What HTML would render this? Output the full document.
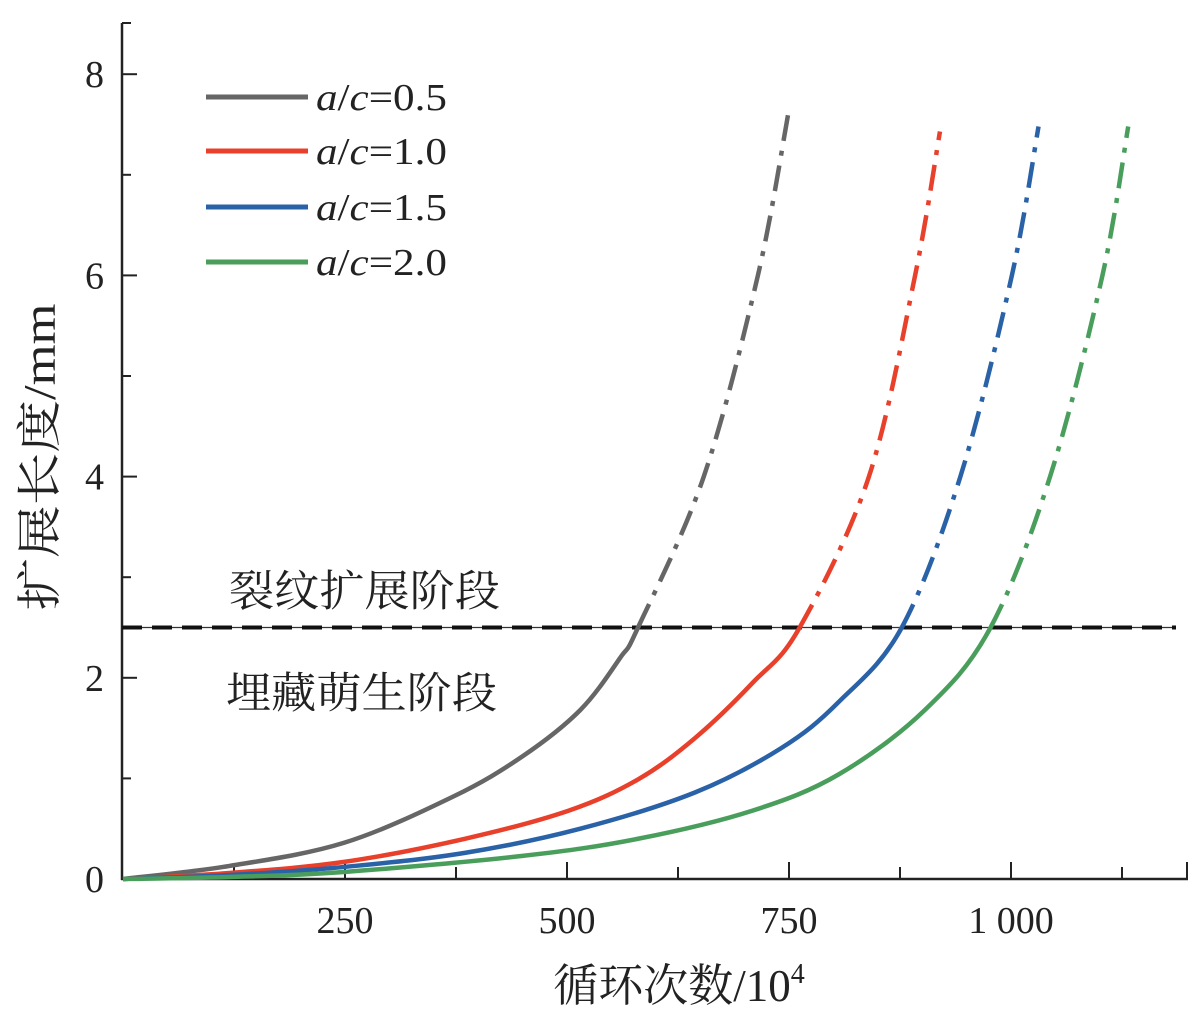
<!DOCTYPE html>
<html><head><meta charset="utf-8"><style>
body{margin:0;background:#fff;}
svg{display:block;font-family:"Liberation Serif","Noto Serif CJK SC",serif;}
</style></head><body>
<svg id="chart" width="1201" height="1018" viewBox="0 0 1201 1018" xmlns="http://www.w3.org/2000/svg"></svg>
<script>
const xTicks=[250,500,750,1000];
const xTickLabels=["250","500","750","1 000"];
const yTicks=[0,2,4,6,8];
const seriesNames=["a/c=0.5","a/c=1.0","a/c=1.5","a/c=2.0"];
const seriesColors=["#666666","#e8402a","#2a62a8","#4a9e5c"];
const threshold=2.5;
// solid (embedded initiation) parts
const grayN=[0,120,249,372,450,515,560,580];
const grayA=[0,0.13,0.36,0.82,1.22,1.68,2.2,2.5];
const redN=[0,120,249,385,502,580,644,709,762];
const redA=[0,0.06,0.17,0.40,0.68,0.99,1.40,1.95,2.5];
const blueN=[0,120,249,385,515,644,741,806,877];
const blueA=[0,0.04,0.12,0.26,0.50,0.86,1.30,1.76,2.5];
const greenN=[0,120,249,450,580,709,806,903,977];
const greenA=[0,0.02,0.07,0.23,0.40,0.68,1.04,1.68,2.5];
// dash-dot (propagation) parts
const grayN2=[580,654,715,749];
const grayA2=[2.5,4,6,7.6];
const redN2=[762,840,892,920];
const redA2=[2.5,4,6,7.43];
const blueN2=[877,943,1001,1031];
const blueA2=[2.5,4,6,7.48];
const greenN2=[977,1044,1103,1132];
const greenA2=[2.5,4,6,7.48];

const svg=document.getElementById('chart');
const NS='http://www.w3.org/2000/svg';
const X0=123,XS=222/250,Y0=879,YS=100.6;
const xs=v=>X0+v*XS, ys=v=>Y0-v*YS;
function mk(t,attrs,txt){const e=document.createElementNS(NS,t);for(const k in attrs)e.setAttribute(k,attrs[k]);if(txt!==undefined)e.textContent=txt;svg.appendChild(e);return e;}
// Catmull-Rom with optional neighbour points for continuity
function smooth(N,A,prev,next){const p=N.map((n,i)=>[xs(n),ys(A[i])]);let d='M'+p[0][0]+','+p[0][1];
for(let i=0;i<p.length-1;i++){const p0=p[i-1]||prev||p[i],p1=p[i],p2=p[i+1],p3=p[i+2]||next||p2;
d+=' C'+(p1[0]+(p2[0]-p0[0])/6)+','+(p1[1]+(p2[1]-p0[1])/6)+' '+(p2[0]-(p3[0]-p1[0])/6)+','+(p2[1]-(p3[1]-p1[1])/6)+' '+p2[0]+','+p2[1];}return d;}

let e=mk('line',{x1:122,y1:23,x2:122,y2:880,stroke:'#222','stroke-width':2.5});

e=mk('line',{x1:121,y1:879,x2:1188,y2:879,stroke:'#222','stroke-width':2.5});

for(let v=125;v<=1125;v+=125){const major=v%250===0;
 e=mk('line',{x1:xs(v),y1:879,x2:xs(v),y2:major?862:867,stroke:'#222','stroke-width':2});
 }
e=mk('line',{x1:1187,y1:879,x2:1187,y2:862,stroke:'#222','stroke-width':2});

for(let v=1;v<=8;v++){const major=v%2===0;
 e=mk('line',{x1:122,y1:ys(v),x2:major?137:131,y2:ys(v),stroke:'#222','stroke-width':2});
 }
e=mk('line',{x1:122,y1:23,x2:131,y2:23,stroke:'#222','stroke-width':2});

xTicks.forEach((v,i)=>{e=mk('text',{x:xs(v),y:933,'font-size':38,'text-anchor':'middle',fill:'#222'},xTickLabels[i]);
 });
yTicks.forEach(v=>{e=mk('text',{x:104,y:ys(v)+13,'font-size':38,'text-anchor':'end',fill:'#222'},String(v));
 });

e=mk('line',{x1:122,y1:ys(threshold),x2:1176,y2:ys(threshold),stroke:'#333','stroke-width':1.2});

e=mk('line',{x1:122,y1:ys(threshold),x2:1176,y2:ys(threshold),stroke:'#111','stroke-width':4,'stroke-dasharray':'20 10'});


const solids=[[grayN,grayA],[redN,redA],[blueN,blueA],[greenN,greenA]];
const dashes=[[grayN2,grayA2],[redN2,redA2],[blueN2,blueA2],[greenN2,greenA2]];
solids.forEach((s,i)=>{const dn=dashes[i];
 e=mk('path',{d:smooth(s[0],s[1],null,[xs(dn[0][1]),ys(dn[1][1])]),fill:'none',stroke:seriesColors[i],'stroke-width':4.5});
 });
dashes.forEach((s,i)=>{const so=solids[i],k=so[0].length-2;
 e=mk('path',{d:smooth(s[0],s[1],[xs(so[0][k]),ys(so[1][k])],null),fill:'none',stroke:seriesColors[i],'stroke-width':4.5,'stroke-dasharray':'26 10 5 10'});
 });

seriesNames.forEach((n,i)=>{const y=[97,151,207,262][i];
 e=mk('line',{x1:206,y1:y,x2:308,y2:y,stroke:seriesColors[i],'stroke-width':5});
 
 e=mk('text',{x:316,y:y+13,'font-size':38,fill:'#222',textLength:131,lengthAdjust:'spacingAndGlyphs'});
 
 const parts=n.split('=');
 e.innerHTML='<tspan font-style="italic">a</tspan>/<tspan font-style="italic">c</tspan>='+parts[1];});

e=mk('text',{x:229,y:606,'font-size':43,fill:'#222',textLength:271,lengthAdjust:'spacingAndGlyphs'},'裂纹扩展阶段');

e=mk('text',{x:226,y:708,'font-size':43,fill:'#222',textLength:271,lengthAdjust:'spacingAndGlyphs'},'埋藏萌生阶段');


e=mk('text',{x:679,y:1001,'font-size':45,'text-anchor':'middle',fill:'#222'});

e.innerHTML='循环次数/10<tspan font-size="28" dy="-18">4</tspan>';
e=mk('text',{x:0,y:0,'font-size':45,'text-anchor':'middle',fill:'#222',transform:'translate(55,457) rotate(-90)',textLength:307,lengthAdjust:'spacingAndGlyphs'},'扩展长度/mm');

</script>
</body></html>
